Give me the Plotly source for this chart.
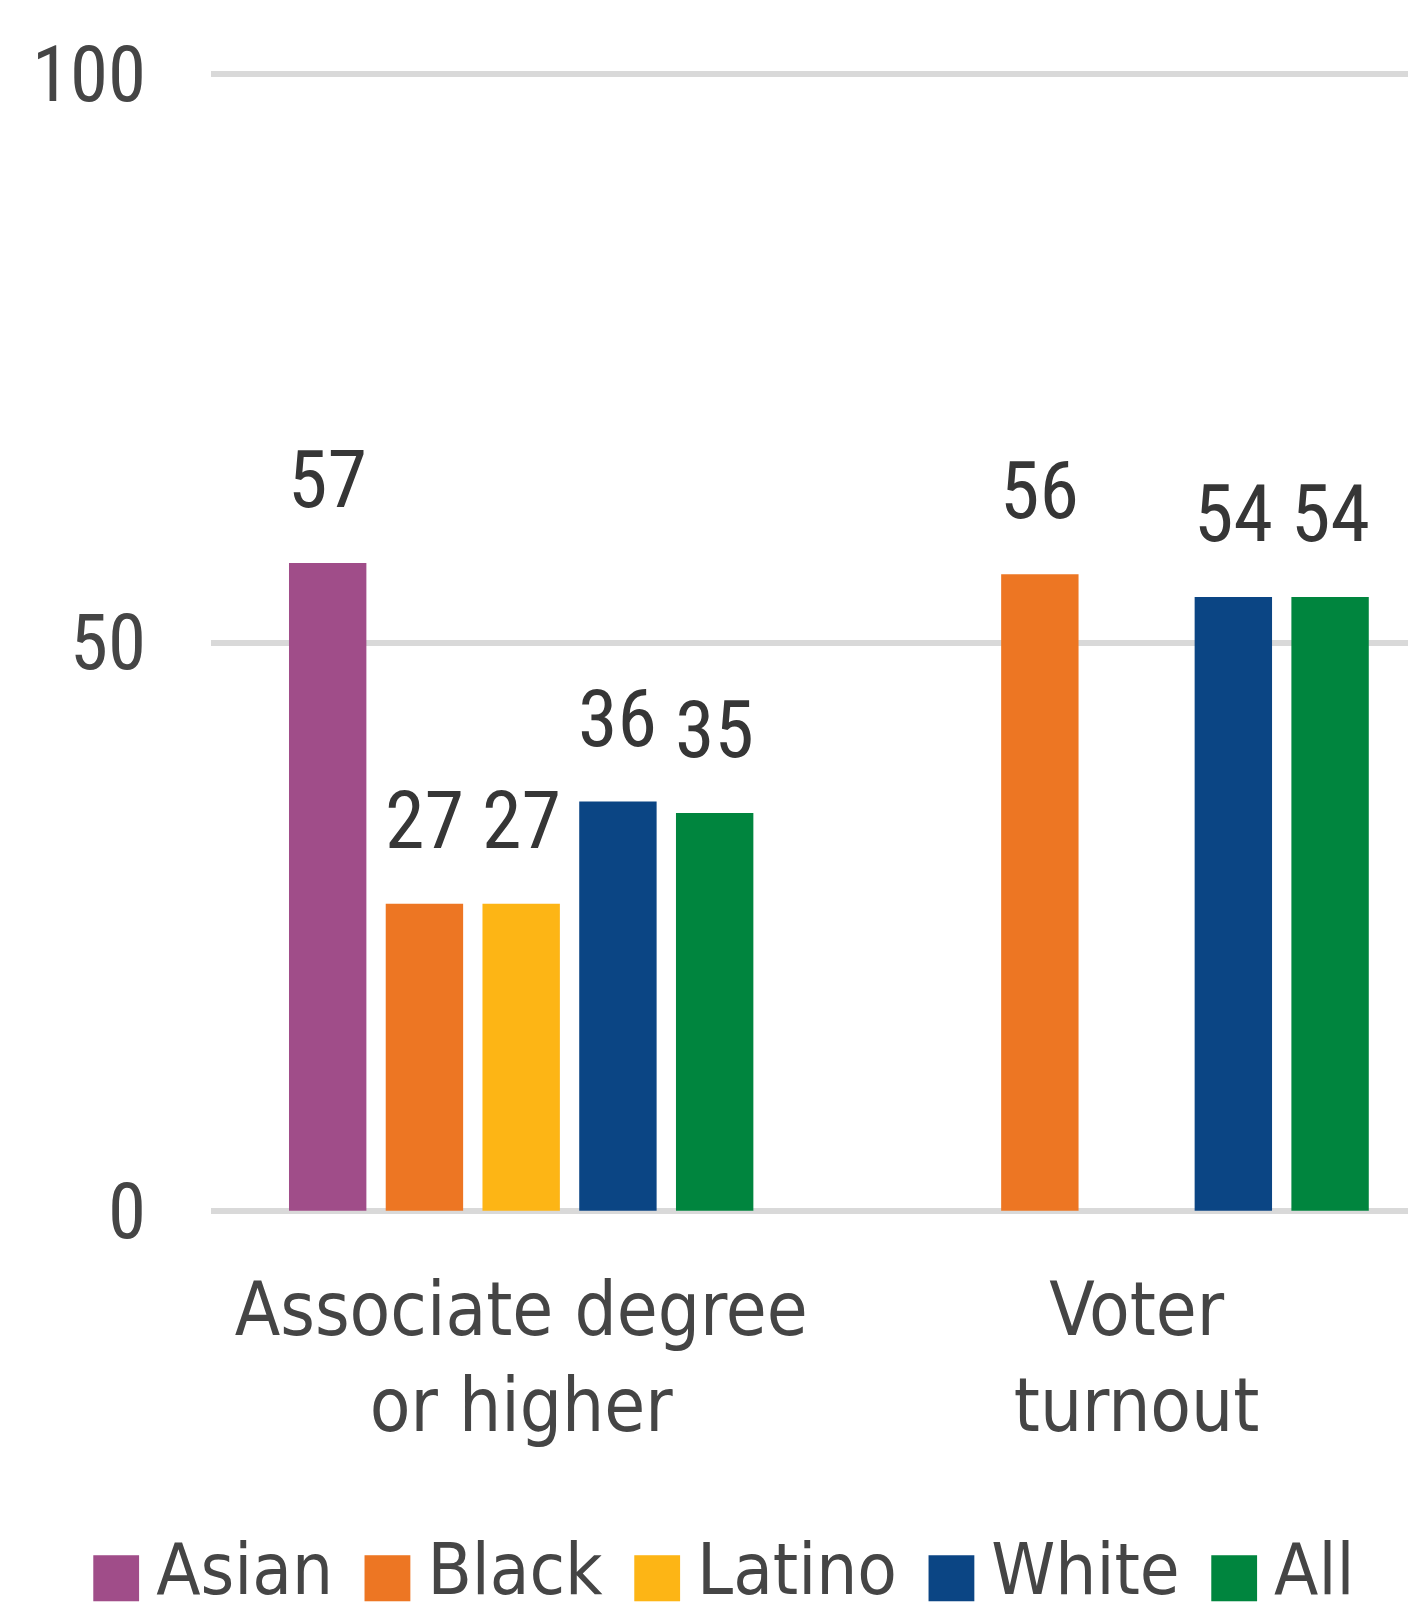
import plotly.graph_objects as go

categories = ["Associate degree<br>or higher", "Voter<br>turnout"]
series_names = ["Asian", "Black", "Latino", "White", "All"]
asian = [57, None]
black = [27, 56]
latino = [27, None]
white = [36, 54]
all_groups = [35, 54]
series_values = [asian, black, latino, white, all_groups]
colors = ["#A04D89", "#ED7623", "#FDB515", "#0B4584", "#00853E"]
y_ticks = [0, 50, 100]

NUM_FONT = "Roboto Condensed, DejaVu Sans Condensed, sans-serif"
TXT_FONT = "DejaVu Sans Condensed, Noto Sans, sans-serif"
BARGAP = 0.214

fig = go.Figure()
for name, vals, col in zip(series_names, series_values, colors):
    fig.add_trace(go.Bar(
        name=name, x=categories, y=vals, marker=dict(color=col, line=dict(width=0)),
        showlegend=False,
    ))

# value labels above bars, placed through the category axis
n = len(series_names)
slot = (1 - BARGAP) / n
for i, (vals, col) in enumerate(zip(series_values, colors)):
    for ci, v in enumerate(vals):
        if v is None:
            continue
        fig.add_annotation(
            x=ci + (i - (n - 1) / 2) * slot, y=v, xref="x", yref="y",
            text=str(v), showarrow=False, yanchor="bottom", yshift=34,
            font=dict(family=NUM_FONT, size=80, color="#363636"),
        )

# legend built from the series names/colours
sq_gap = "<span style='font-size:40px'>\u00a0</span>"
item_gap = "<span style='font-size:92px'>\u00a0</span>"
parts = []
for name, col in zip(series_names, colors):
    parts.append(
        f"<span style='color:{col};font-family:DejaVu Sans;font-size:60px'>\u25A0</span>{sq_gap}{name}"
    )
legend_text = item_gap.join(parts)
fig.add_annotation(
    x=0.423, y=-0.2935, xref="paper", yref="paper", xanchor="center", yanchor="middle",
    text=legend_text, showarrow=False, borderpad=0,
    font=dict(family=TXT_FONT, size=72, color="#454545"),
)

fig.update_layout(
    width=1416, height=1615,
    margin=dict(l=203, r=8, t=55, b=401),
    paper_bgcolor="white", plot_bgcolor="white",
    barmode="group", bargap=BARGAP, bargroupgap=0.2,
    showlegend=False,
    xaxis=dict(
        type="category", range=[-0.504, 1.454], showgrid=False, showline=False, ticks="",
        tickfont=dict(family=TXT_FONT, size=74, color="#454545"),
        ticklabelstandoff=38,
    ),
    yaxis=dict(
        range=[-1, 101], tickvals=y_ticks, ticktext=[str(t) for t in y_ticks],
        showgrid=True, gridcolor="#D9D9D9", gridwidth=6,
        zeroline=True, zerolinecolor="#D9D9D9", zerolinewidth=6,
        showline=False, ticks="",
        tickfont=dict(family=NUM_FONT, size=77, color="#454545"),
        ticklabelstandoff=64,
    ),
)

fig.write_html("out.html")
